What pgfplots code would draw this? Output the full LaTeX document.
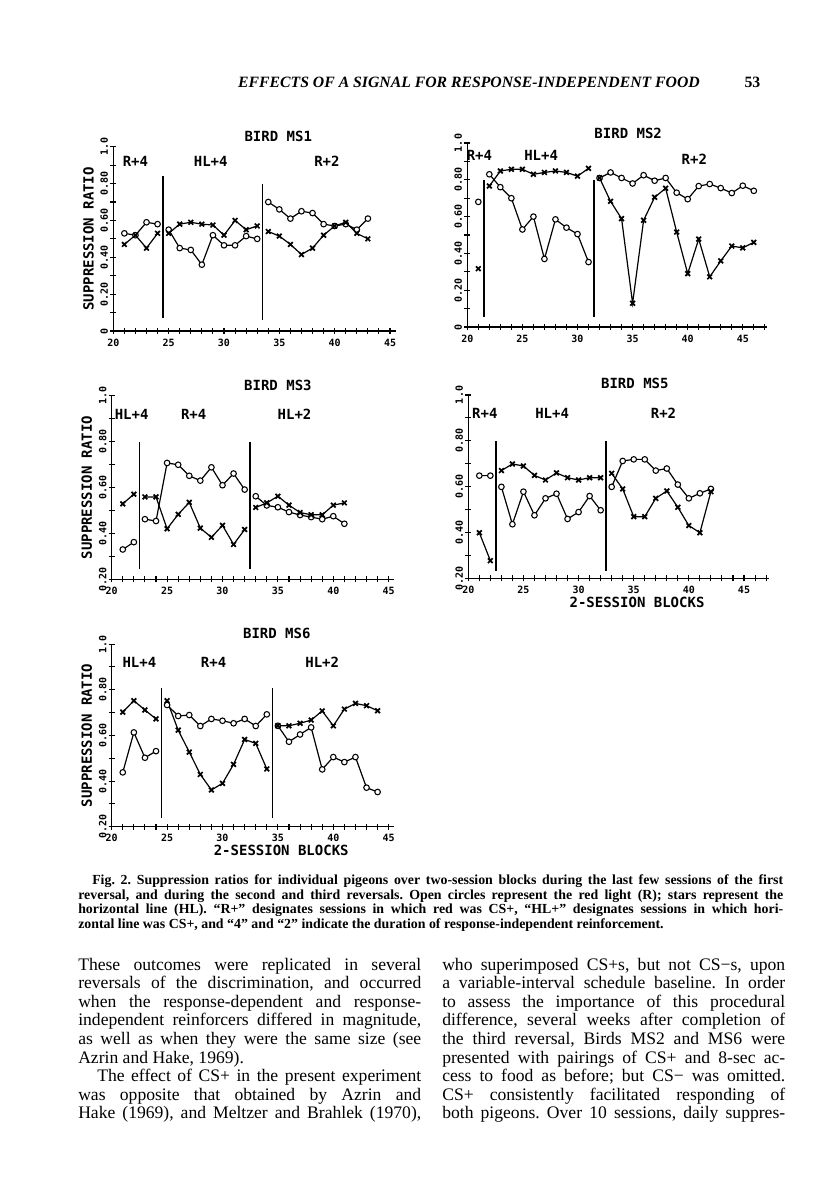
\documentclass[border=0pt]{standalone}
\usepackage{fontspec}
\setmainfont{Liberation Serif}
\newfontfamily\plotfont{DejaVu Sans Mono}
\usepackage{pgfplots}
\pgfplotsset{compat=1.18}
\frenchspacing

\newcommand\pl{\plotfont\bfseries\fontsize{10.5}{12}\selectfont}
\newcommand\bodyline[1]{\makebox[257.25pt][s]{#1}}
\newcommand\capline[1]{\makebox[528.75pt][s]{#1}}

\pgfplotsset{
  bird/.style={
    scale only axis, anchor=south west, clip=false,
    axis lines*=left,
    axis line style={line width=0.9pt},
    unbounded coords=jump,
    xmin=20,
    xtick={20,25,30,35,40,45},
    minor xtick={21,22,23,24,26,27,28,29,31,32,33,34,36,37,38,39,41,42,43,44,46,47},
    tick align=center,
    major tick length=4.5pt, minor tick length=4.5pt,
    every tick/.style={black, line width=0.8pt},
    /pgf/number format/assume math mode=true,
    tick label style={font=\plotfont\bfseries\fontsize{7.5}{8}\selectfont},
    yticklabel style={rotate=90, anchor=south, inner sep=1.5pt},
    ylabel style={font=\pl},
  },
  yzero/.style={ymin=0, ymax=1,
    ytick={0,0.2,0.4,0.6,0.8,1}, minor ytick={0.1,0.3,0.5,0.7,0.9},
    yticklabels={0,0.20,0.40,0.60,0.80,1.0}},
  ytwo/.style={ymin=0.2, ymax=1,
    ytick={0.2,0.4,0.6,0.8,1}, minor ytick={0.3,0.5,0.7,0.9},
    yticklabels={0.20,0.40,0.60,0.80,1.0}},
  circ/.style={black, line width=0.9pt, mark=*, mark size=2.1pt,
    mark options={fill=white, line width=0.8pt}},
  star/.style={black, line width=0.9pt, mark=x, mark size=2.5pt,
    mark options={line width=1.3pt}},
  phase/.style={black, line width=1.1pt, no marks},
}

\begin{document}
\begin{tikzpicture}
\begin{scope}[x=0.75pt,y=-0.75pt]
\fill[white, use as bounding box] (0,0) rectangle (816,1193);
% running head
\node[anchor=base] at (469,87) {\fontsize{11.8}{13}\selectfont\bfseries\itshape EFFECTS OF A SIGNAL FOR RESPONSE-INDEPENDENT FOOD};
\node[anchor=base east] at (765,87) {\fontsize{11.8}{13}\selectfont\bfseries 53};
% caption
\begin{scope}[every node/.style={anchor=base west, inner sep=0pt, font=\fontsize{10.4}{11}\selectfont\bfseries}]
\node at (92,884.5) {\makebox[518.25pt][s]{Fig. 2. Suppression ratios for individual pigeons over two-session blocks during the last few sessions of the first}};
\node at (78,899) {\capline{reversal, and during the second and third reversals. Open circles represent the red light (R); stars represent the}};
\node at (78,913.5) {\capline{horizontal line (HL). “R+” designates sessions in which red was CS+, “HL+” designates sessions in which hori-}};
\node at (78,928) {zontal line was CS+, and “4” and “2” indicate the duration of response-independent reinforcement.};
\end{scope}
% body text
\begin{scope}[every node/.style={anchor=base west, inner sep=0pt, font=\fontsize{13.2}{15}\selectfont}]
\node at (78,970.0) {\bodyline{These outcomes were replicated in several}};
\node at (78,988.6) {\bodyline{reversals of the discrimination, and occurred}};
\node at (78,1007.2) {\bodyline{when the response-dependent and response-}};
\node at (78,1025.8) {\bodyline{independent reinforcers differed in magnitude,}};
\node at (78,1044.4) {\bodyline{as well as when they were the same size (see}};
\node at (78,1063.0) {Azrin and Hake, 1969).};
\node at (97,1081.6) {\makebox[243pt][s]{The effect of CS+ in the present experiment}};
\node at (78,1100.2) {\bodyline{was opposite that obtained by Azrin and}};
\node at (78,1118.8) {\bodyline{Hake (1969), and Meltzer and Brahlek (1970),}};
\node at (442,970.0) {\bodyline{who superimposed CS+s, but not CS−s, upon}};
\node at (442,988.6) {\bodyline{a variable-interval schedule baseline. In order}};
\node at (442,1007.2) {\bodyline{to assess the importance of this procedural}};
\node at (442,1025.8) {\bodyline{difference, several weeks after completion of}};
\node at (442,1044.4) {\bodyline{the third reversal, Birds MS2 and MS6 were}};
\node at (442,1063.0) {\bodyline{presented with pairings of CS+ and 8-sec ac-}};
\node at (442,1081.6) {\bodyline{cess to food as before; but CS− was omitted.}};
\node at (442,1100.2) {\bodyline{CS+ consistently facilitated responding of}};
\node at (442,1118.8) {\bodyline{both pigeons. Over 10 sessions, daily suppres-}};
\end{scope}
\end{scope}

% ---------------- BIRD MS1
\begin{axis}[bird, yzero, at={({113.3*0.75pt},{-331*0.75pt})},
  width=211.7pt, height=138.2pt, xmax=45.5, ylabel={SUPPRESSION RATIO}]
\addplot[phase] coordinates {(24.5,0.07) (24.5,0.84)};
\addplot[phase] coordinates {(33.5,0.06) (33.5,0.80)};
\addplot[circ] coordinates {(21,0.53)(22,0.52)(23,0.59)(24,0.58)(24.5,nan)
  (25,0.55)(26,0.45)(27,0.44)(28,0.36)(29,0.52)(30,0.465)(31,0.465)(32,0.515)(33,0.50)(33.5,nan)
  (34,0.70)(35,0.66)(36,0.61)(37,0.65)(38,0.64)(39,0.58)(40,0.57)(41,0.58)(42,0.55)(43,0.61)};
\addplot[star] coordinates {(21,0.47)(22,0.52)(23,0.45)(24,0.53)(24.5,nan)
  (25,0.53)(26,0.58)(27,0.59)(28,0.58)(29,0.575)(30,0.52)(31,0.60)(32,0.55)(33,0.57)(33.5,nan)
  (34,0.54)(35,0.515)(36,0.47)(37,0.415)(38,0.45)(39,0.52)(40,0.57)(41,0.59)(42,0.53)(43,0.50)};
\node[font=\pl] at (axis cs:34.9,1.058) {BIRD MS1};
\node[font=\pl] at (axis cs:22.0,0.92) {R+4};
\node[font=\pl] at (axis cs:28.8,0.92) {HL+4};
\node[font=\pl] at (axis cs:39.3,0.92) {R+2};
\end{axis}

% ---------------- BIRD MS2
\begin{axis}[bird, yzero, at={({467.3*0.75pt},{-327*0.75pt})},
  width=224.8pt, height=138pt, xmax=47.2]
\addplot[phase] coordinates {(21.5,0.056) (21.5,0.80)};
\addplot[phase] coordinates {(31.5,0.056) (31.5,0.80)};
\addplot[circ] coordinates {(21,0.68)(21.5,nan)
  (22,0.83)(23,0.76)(24,0.70)(25,0.53)(26,0.60)(27,0.37)(28,0.585)(29,0.54)(30,0.505)(31,0.353)(31.5,nan)
  (32,0.81)(33,0.84)(34,0.81)(35,0.78)(36,0.825)(37,0.795)(38,0.81)(39,0.73)(40,0.695)(41,0.766)
  (42,0.777)(43,0.755)(44,0.728)(45,0.768)(46,0.74)};
\addplot[star] coordinates {(21,0.317)(21.5,nan)
  (22,0.766)(23,0.848)(24,0.857)(25,0.857)(26,0.83)(27,0.84)(28,0.848)(29,0.84)(30,0.82)(31,0.862)(31.5,nan)
  (32,0.81)(33,0.683)(34,0.589)(35,0.129)(36,0.58)(37,0.705)(38,0.754)(39,0.516)(40,0.29)(41,0.478)
  (42,0.273)(43,0.359)(44,0.44)(45,0.43)(46,0.46)};
\node[font=\pl] at (axis cs:34.6,1.053) {BIRD MS2};
\node[font=\pl] at (axis cs:21.1,0.935) {R+4};
\node[font=\pl] at (axis cs:26.7,0.935) {HL+4};
\node[font=\pl] at (axis cs:40.6,0.91) {R+2};
\end{axis}

% ---------------- BIRD MS3
\begin{axis}[bird, ytwo, at={({111.7*0.75pt},{-579.3*0.75pt})},
  width=211.9pt, height=137.7pt, xmax=45.5, ylabel={SUPPRESSION RATIO}]
\addplot[phase] coordinates {(22.5,0.243) (22.5,0.80)};
\addplot[phase] coordinates {(32.5,0.243) (32.5,0.80)};
\addplot[circ] coordinates {(21,0.33)(22,0.362)(22.5,nan)
  (23,0.462)(24,0.454)(25,0.707)(26,0.699)(27,0.651)(28,0.63)(29,0.688)(30,0.61)(31,0.661)(32,0.591)(32.5,nan)
  (33,0.562)(34,0.522)(35,0.514)(36,0.493)(37,0.48)(38,0.471)(39,0.462)(40,0.475)(41,0.442)};
\addplot[star] coordinates {(21,0.529)(22,0.571)(22.5,nan)
  (23,0.559)(24,0.559)(25,0.42)(26,0.483)(27,0.535)(28,0.423)(29,0.383)(30,0.435)(31,0.352)(32,0.417)(32.5,nan)
  (33,0.513)(34,0.533)(35,0.562)(36,0.523)(37,0.491)(38,0.481)(39,0.481)(40,0.523)(41,0.533)};
\node[font=\pl] at (axis cs:35.0,1.047) {BIRD MS3};
\node[font=\pl] at (axis cs:21.8,0.92) {HL+4};
\node[font=\pl] at (axis cs:27.4,0.92) {R+4};
\node[font=\pl] at (axis cs:36.5,0.92) {HL+2};
\end{axis}

% ---------------- BIRD MS5
\begin{axis}[bird, ytwo, at={({468.3*0.75pt},{-578.3*0.75pt})},
  width=225.8pt, height=137.5pt, xmax=47.3]
\addplot[phase] coordinates {(22.5,0.233) (22.5,0.80)};
\addplot[phase] coordinates {(32.5,0.233) (32.5,0.80)};
\addplot[circ] coordinates {(21,0.648)(22,0.648)(22.5,nan)
  (23,0.599)(24,0.436)(25,0.578)(26,0.475)(27,0.549)(28,0.569)(29,0.459)(30,0.489)(31,0.559)(32,0.497)(32.5,nan)
  (33,0.599)(34,0.712)(35,0.719)(36,0.719)(37,0.67)(38,0.679)(39,0.609)(40,0.549)(41,0.571)(42,0.59)};
\addplot[star] coordinates {(21,0.399)(22,0.277)(22.5,nan)
  (23,0.67)(24,0.699)(25,0.69)(26,0.649)(27,0.629)(28,0.66)(29,0.639)(30,0.629)(31,0.639)(32,0.639)(32.5,nan)
  (33,0.658)(34,0.59)(35,0.469)(36,0.469)(37,0.549)(38,0.581)(39,0.51)(40,0.43)(41,0.399)(42,0.578)};
\node[font=\pl] at (axis cs:35.1,1.051) {BIRD MS5};
\node[font=\pl] at (axis cs:21.5,0.92) {R+4};
\node[font=\pl] at (axis cs:27.6,0.92) {HL+4};
\node[font=\pl] at (axis cs:37.7,0.92) {R+2};
\node[font=\pl] at (axis cs:35.3,0.095) {2-SESSION BLOCKS};
\end{axis}

% ---------------- BIRD MS6
\begin{axis}[bird, ytwo, at={({111.7*0.75pt},{-826.7*0.75pt})},
  width=211.9pt, height=137pt, xmax=45.5, ylabel={SUPPRESSION RATIO}]
\addplot[phase] coordinates {(24.5,0.236) (24.5,0.806)};
\addplot[phase] coordinates {(34.5,0.236) (34.5,0.806)};
\addplot[circ] coordinates {(21,0.438)(22,0.613)(23,0.502)(24,0.531)(24.5,nan)
  (25,0.733)(26,0.685)(27,0.689)(28,0.641)(29,0.672)(30,0.664)(31,0.653)(32,0.672)(33,0.641)(34,0.692)(34.5,nan)
  (35,0.642)(36,0.572)(37,0.604)(38,0.635)(39,0.451)(40,0.505)(41,0.483)(42,0.505)(43,0.371)(44,0.352)};
\addplot[star] coordinates {(21,0.702)(22,0.752)(23,0.711)(24,0.672)(24.5,nan)
  (25,0.752)(26,0.623)(27,0.527)(28,0.429)(29,0.361)(30,0.39)(31,0.473)(32,0.582)(33,0.565)(34,0.453)(34.5,nan)
  (35,0.642)(36,0.642)(37,0.653)(38,0.667)(39,0.707)(40,0.642)(41,0.715)(42,0.74)(43,0.73)(44,0.708)};
\node[font=\pl] at (axis cs:34.9,1.047) {BIRD MS6};
\node[font=\pl] at (axis cs:22.5,0.92) {HL+4};
\node[font=\pl] at (axis cs:29.2,0.92) {R+4};
\node[font=\pl] at (axis cs:39.0,0.92) {HL+2};
\node[font=\pl] at (axis cs:35.3,0.098) {2-SESSION BLOCKS};
\end{axis}
\end{tikzpicture}
\end{document}
